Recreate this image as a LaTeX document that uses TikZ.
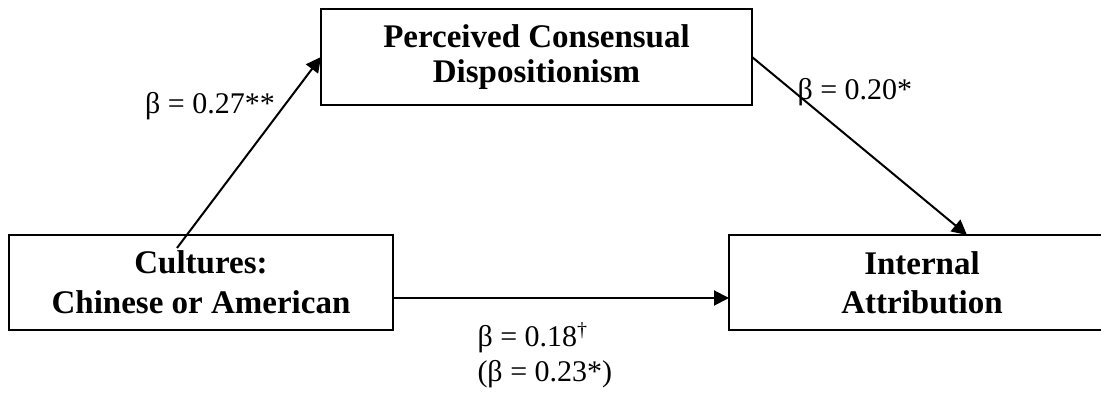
\documentclass[tikz,border=0pt]{standalone}
\usepackage{fontspec}
\setmainfont{Liberation Serif}
\usetikzlibrary{arrows.meta}
\begin{document}
\begin{tikzpicture}[x=0.4pt,y=-0.4pt,
  box/.style={draw, line width=1.1pt, inner sep=0pt, outer sep=0pt, align=center},
  boxfont/.style={font=\fontsize{13.2}{#1}\selectfont\bfseries},
  conn/.style={line width=0.8pt, -{Triangle[length=6pt,width=6pt]}},
  lbl/.style={inner sep=0pt, font=\fontsize{12}{14}\selectfont}]
\useasboundingbox (0,0) rectangle (1101,397);
\clip (0,0) rectangle (1101,397);
\node[box, boxfont=14, minimum width=172.4pt, minimum height=38.4pt] (top) at (536.5,57) {Perceived Consensual\\Dispositionism};
\node[box, boxfont=16, minimum width=153.6pt, minimum height=38pt] (left) at (201,282.5) {Cultures:\\Chinese or American};
\node[box, boxfont=15.6, minimum width=154.4pt, minimum height=38pt] (right) at (922,282.5) {Internal\\Attribution};
\coordinate (a1s) at (177,248);
\coordinate (a2e) at (967,235);
\draw[conn] (a1s) -- (top.west);
\draw[conn] (top.east) -- (a2e);
\draw[conn] ([yshift=-6.2pt]left.east) -- ([yshift=-6.2pt]right.west);
\node[lbl] (l1) at (210,106) {β = 0.27**};
\node[lbl, anchor=west] (l2) at (797,92) {β = 0.20*};
\node[lbl, anchor=base west] (l3) at (477,347) {β = 0.18\textsuperscript{†}};
\node[lbl, anchor=base west] (l4) at (477,382) {(β = 0.23*)};
\end{tikzpicture}
\end{document}
